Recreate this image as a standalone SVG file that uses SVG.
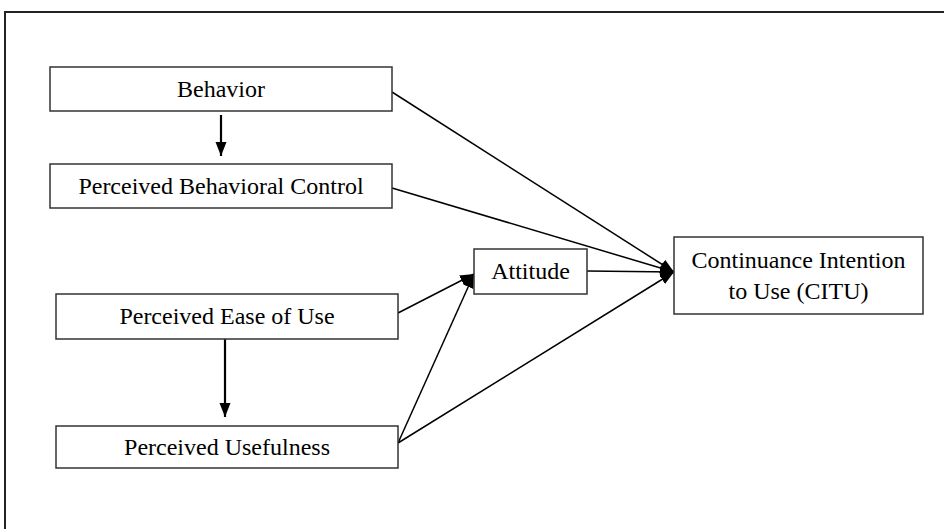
<svg xmlns="http://www.w3.org/2000/svg" width="944" height="529" viewBox="0 0 944 529">
<style>
.box{fill:#fff;stroke:#333;stroke-width:1.5}
.lbl{font-family:"Liberation Serif","Times New Roman",serif;font-size:24px;fill:#000;text-anchor:middle}
.con{stroke:#000;stroke-width:1.5;fill:none}
.thick{stroke:#000;stroke-width:2.2;fill:none}
</style>
<defs>
<marker id="ah" markerUnits="userSpaceOnUse" markerWidth="16" markerHeight="14" refX="14" refY="7" orient="auto">
<path d="M0,1.5 L14,7 L0,12.5 Z" fill="#000"/>
</marker>
</defs>
<rect x="5" y="12" width="950" height="530" fill="#fff" stroke="#222" stroke-width="2"/>
<g id="connectors">
<line class="thick" x1="221" y1="115" x2="221" y2="156" marker-end="url(#ah)"/>
<line class="thick" x1="225" y1="339" x2="225" y2="417" marker-end="url(#ah)"/>
<line class="con" x1="392" y1="92" x2="674" y2="272" marker-end="url(#ah)"/>
<line class="con" x1="392" y1="188" x2="674" y2="272" marker-end="url(#ah)"/>
<line class="con" x1="587" y1="271" x2="674" y2="272" marker-end="url(#ah)"/>
<line class="con" x1="398" y1="443" x2="674" y2="272" marker-end="url(#ah)"/>
<line class="con" x1="398" y1="313" x2="474" y2="274" marker-end="url(#ah)"/>
<line class="con" x1="398" y1="443" x2="474" y2="274" marker-end="url(#ah)"/>
</g>
<g id="behavior">
<rect class="box" x="50" y="67" width="342" height="44"/>
<text class="lbl" x="221" y="97">Behavior</text>
</g>
<g id="pbc">
<rect class="box" x="50" y="164" width="342" height="44"/>
<text class="lbl" x="221" y="194">Perceived Behavioral Control</text>
</g>
<g id="peou">
<rect class="box" x="56" y="294" width="342" height="45"/>
<text class="lbl" x="227" y="324">Perceived Ease of Use</text>
</g>
<g id="pu">
<rect class="box" x="56" y="426" width="342" height="42"/>
<text class="lbl" x="227" y="455">Perceived Usefulness</text>
</g>
<g id="attitude">
<rect class="box" x="474" y="249" width="113" height="45"/>
<text class="lbl" x="530.5" y="279">Attitude</text>
</g>
<g id="citu">
<rect class="box" x="674" y="237" width="249" height="77"/>
<text class="lbl" x="798.5" y="268">Continuance Intention</text>
<text class="lbl" x="798.5" y="299">to Use (CITU)</text>
</g>
</svg>
